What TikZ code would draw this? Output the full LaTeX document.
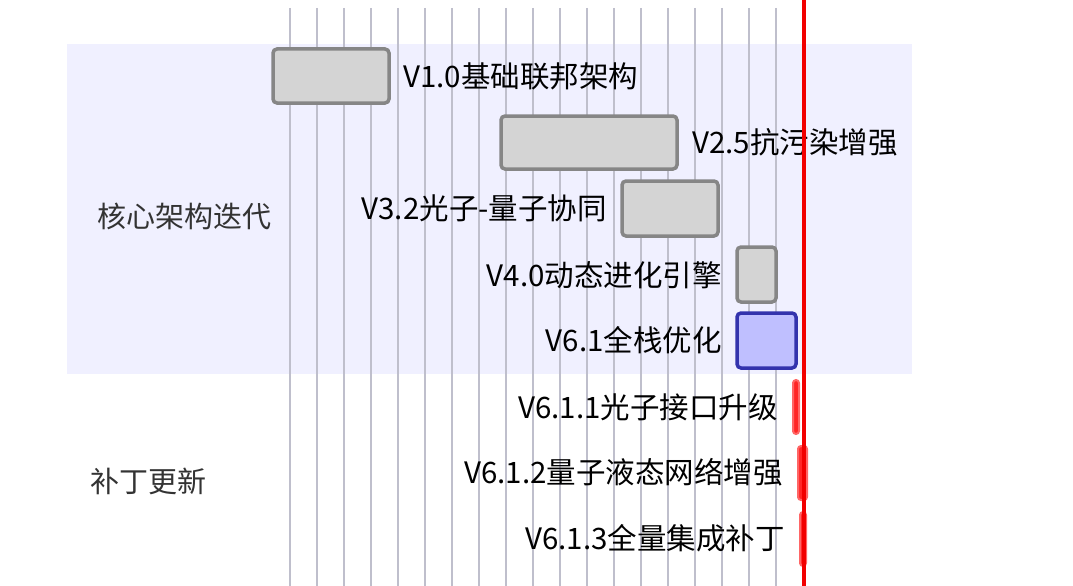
\documentclass[tikz,border=0pt]{standalone}
\usepackage{fontspec}
\setmainfont{Noto Sans CJK SC}
\begin{document}
\begin{tikzpicture}[x=1pt,y=-1pt,
  task/.style={draw=gray!95,line width=3.5pt,fill=black!17,rounded corners=4pt},
  act/.style={draw=blue!60!black!80,line width=3.5pt,fill=blue!25,rounded corners=4pt},
  crit/.style={draw=red!60,line width=2pt,fill=red!85,rounded corners=3pt},
  lab/.style={font=\fontsize{29.5}{34}\selectfont,inner sep=0pt},
  sec/.style={font=\fontsize{29}{32}\selectfont,text=black!80,inner sep=0pt,anchor=west}]
\useasboundingbox (0,0) rectangle (1073,586);
\fill[blue!6] (67,44) rectangle (912,374);
\foreach \i in {0,...,18} \draw[blue!20!black!25,line width=1.5pt] (290+27*\i,8) -- (290+27*\i,586);
\node[sec] (s1) at (97,216) {核心架构迭代};
\node[sec] (s2) at (90,481) {补丁更新};
\draw[task] (273,49) rectangle (389,103); \node[lab,anchor=west] (t1) at (403,76) {V1.0基础联邦架构};
\draw[task] (501,116) rectangle (677,169); \node[lab,anchor=west] (t2) at (692,142) {V2.5抗污染增强};
\draw[task] (622,181) rectangle (718,236); \node[lab,anchor=east] (t3) at (607,208) {V3.2光子-量子协同};
\draw[task] (737,247) rectangle (776,302); \node[lab,anchor=east] (t4) at (722,275) {V4.0动态进化引擎};
\draw[act] (737,313) rectangle (796,368); \node[lab,anchor=east] (t5) at (722,340) {V6.1全栈优化};
\draw[crit] (793,380) rectangle (799,434); \node[lab,anchor=east] (t6) at (778,407) {V6.1.1光子接口升级};
\draw[crit] (798,446) rectangle (807,500); \node[lab,anchor=east] (t7) at (783,472) {V6.1.2量子液态网络增强};
\draw[crit] (800,512) rectangle (806,566); \node[lab,anchor=east] (t8) at (785,538) {V6.1.3全量集成补丁};
\draw[red!95!black,line width=3.5pt] (804,0) -- (804,586);
\end{tikzpicture}
\end{document}
